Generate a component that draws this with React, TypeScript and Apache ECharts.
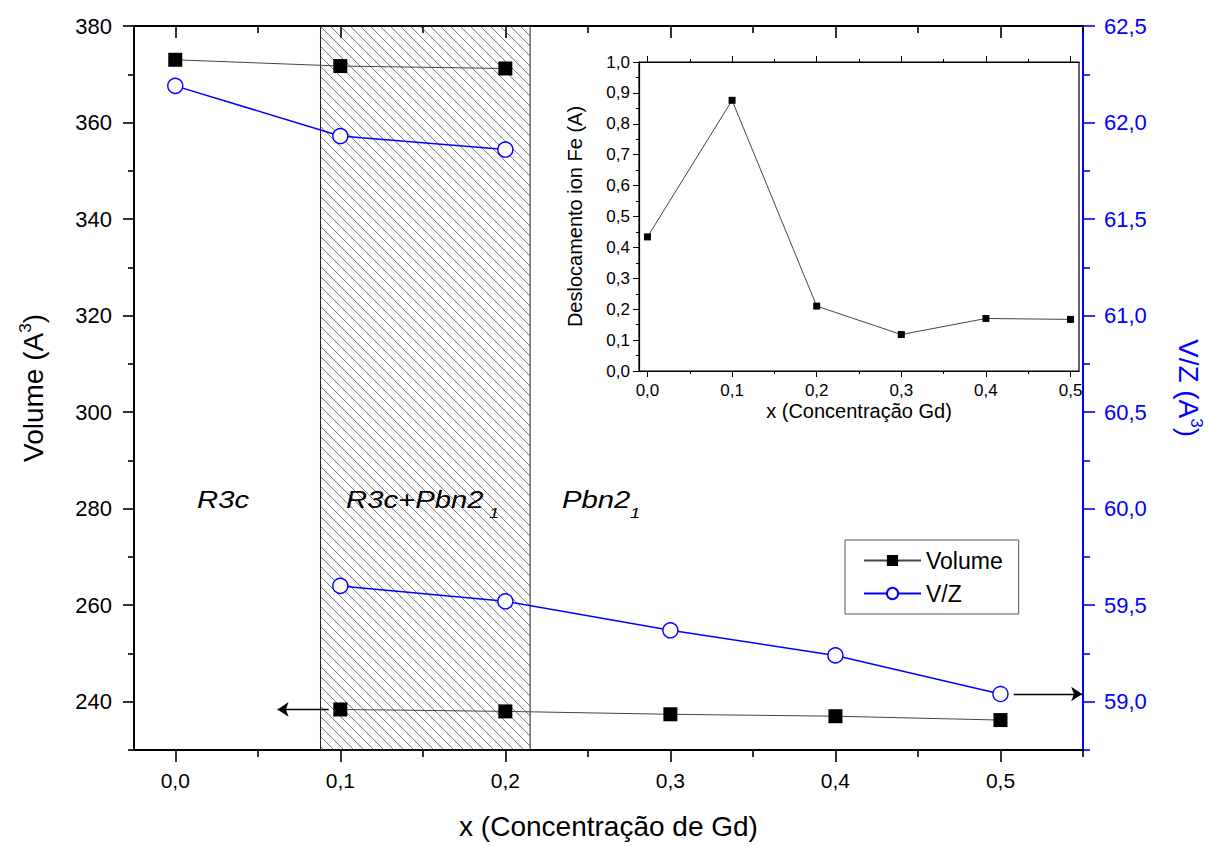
import React, { useEffect, useRef } from "react";
import * as echarts from "echarts";

// ---------- data ----------
const volumeR3c: [number, number][] = [
  [0.0, 373.0],
  [0.1, 371.7],
  [0.2, 371.2],
];
const volumePbn: [number, number][] = [
  [0.1, 238.4],
  [0.2, 238.0],
  [0.3, 237.4],
  [0.4, 237.0],
  [0.5, 236.2],
];
const vzR3c: [number, number][] = [
  [0.0, 62.19],
  [0.1, 61.93],
  [0.2, 61.86],
];
const vzPbn: [number, number][] = [
  [0.1, 59.6],
  [0.2, 59.52],
  [0.3, 59.37],
  [0.4, 59.24],
  [0.5, 59.04],
];
const insetDisplacement: [number, number][] = [
  [0.0, 0.434],
  [0.1, 0.876],
  [0.2, 0.21],
  [0.3, 0.118],
  [0.4, 0.17],
  [0.5, 0.167],
];
// two-phase (hatched) region, in x units
const mixedPhaseRange: [number, number] = [0.088, 0.215];
// arrows indicating which axis each series uses
const volumeArrowX: [number, number] = [0.093, 0.062];
const vzArrowX: [number, number] = [0.508, 0.5495];

// ---------- tick values ----------
const xMajor = [0, 0.1, 0.2, 0.3, 0.4, 0.5];
const xMinor = [0.05, 0.15, 0.25, 0.35, 0.45, 0.55];
const leftMajor = [240, 260, 280, 300, 320, 340, 360, 380];
const leftMinor = [230, 250, 270, 290, 310, 330, 350, 370];
const rightMajor = [59.0, 59.5, 60.0, 60.5, 61.0, 61.5, 62.0, 62.5];
const rightMinor = [58.75, 59.25, 59.75, 60.25, 60.75, 61.25, 61.75, 62.25];
const insetXMajor = [0, 0.1, 0.2, 0.3, 0.4, 0.5];
const insetXMinor = [0.05, 0.15, 0.25, 0.35, 0.45];
const insetYMajor = [0, 0.1, 0.2, 0.3, 0.4, 0.5, 0.6, 0.7, 0.8, 0.9, 1.0];
const insetYMinor = [0.05, 0.15, 0.25, 0.35, 0.45, 0.55, 0.65, 0.75, 0.85, 0.95];

const FONT = "Liberation Sans, Arial, sans-serif";
const BLUE = "#0000ff";
const comma1 = (v: number) => v.toFixed(1).replace(".", ",");

function tickAxis(opts: any) {
  const {
    gridIndex, position, min, max, ticks, length, inside = false,
    color = "#000", line = false, lineWidth = 2, labels, label = {}, extra = {},
  } = opts;
  return {
    type: "value",
    gridIndex,
    position,
    min,
    max,
    splitLine: { show: false },
    axisLine: { show: line, onZero: false, lineStyle: { color, width: lineWidth } },
    axisTick: {
      show: true,
      inside,
      length,
      customValues: ticks,
      lineStyle: { color, width: lineWidth === 2 ? 1.6 : 1 },
    },
    axisLabel: labels
      ? { show: true, customValues: labels, color, fontFamily: FONT, ...label }
      : { show: false },
    ...extra,
  };
}

function phaseText(text: string, x: number, y: number, size: number) {
  return {
    type: "text",
    x,
    y,
    scaleX: 1.22,
    z: 10,
    style: { text, fontSize: size, fontStyle: "italic", fontFamily: FONT, fill: "#000", verticalAlign: "top" },
  };
}

export default function App() {
  const ref = useRef<HTMLDivElement>(null);

  useEffect(() => {
    if (!ref.current) return;
    const chart = echarts.init(ref.current, null, { renderer: "svg" });

    const mainX = { min: -0.025, max: 0.55 };
    const mainYL = { min: 230, max: 380 };
    const mainYR = { min: 58.75, max: 62.5 };
    const insX = { min: -0.01, max: 0.51 };
    const insY = { min: 0, max: 1 };

    const option: any = {
      animation: false,
      backgroundColor: "#fff",
      textStyle: { fontFamily: FONT },
      grid: [
        { left: 134, top: 26, width: 949, height: 724, containLabel: false, outerBoundsMode: "none" },
        {
          left: 639, top: 62, width: 440, height: 309, show: true, outerBoundsMode: "none",
          backgroundColor: "#fff", borderColor: "#000", borderWidth: 1.2, z: 5,
        },
      ],
      legend: {
        orient: "vertical",
        left: 845,
        top: 540,
        itemWidth: 57,
        itemHeight: 14,
        itemGap: 10,
        padding: [9, 16, 9, 18],
        borderColor: "#555",
        borderWidth: 1,
        backgroundColor: "#fff",
        textStyle: { fontSize: 23, color: "#000", fontFamily: FONT },
        data: ["Volume", "V/Z"],
        selectedMode: false,
      },
      xAxis: [
        tickAxis({
          gridIndex: 0, position: "bottom", ...mainX, ticks: xMajor, length: 12, line: true,
          labels: xMajor, label: { formatter: comma1, fontSize: 21, margin: 20 },
          extra: {
            name: "x (Concentração de Gd)", nameLocation: "middle", nameGap: 62,
            nameTextStyle: { fontSize: 28, color: "#000", fontFamily: FONT },
          },
        }),
        tickAxis({ gridIndex: 0, position: "bottom", ...mainX, ticks: xMinor, length: 7 }),
        tickAxis({ gridIndex: 0, position: "top", ...mainX, ticks: xMajor, length: 12, inside: true, line: true }),
        tickAxis({ gridIndex: 0, position: "top", ...mainX, ticks: xMinor, length: 7, inside: true }),
        tickAxis({
          gridIndex: 1, position: "bottom", ...insX, ticks: insetXMajor, length: 6, line: true, lineWidth: 1.2,
          labels: insetXMajor, label: { formatter: comma1, fontSize: 17, margin: 11 },
          extra: {
            name: "x (Concentração Gd)", nameLocation: "middle", nameGap: 30, z: 6,
            nameTextStyle: { fontSize: 20, color: "#000", fontFamily: FONT },
          },
        }),
        tickAxis({ gridIndex: 1, position: "bottom", ...insX, ticks: insetXMinor, length: 3, lineWidth: 1.2, extra: { z: 6 } }),
        tickAxis({ gridIndex: 1, position: "top", ...insX, ticks: insetXMajor, length: 6, line: true, lineWidth: 1.2, extra: { z: 6 } }),
        tickAxis({ gridIndex: 1, position: "top", ...insX, ticks: insetXMinor, length: 3, lineWidth: 1.2, extra: { z: 6 } }),
      ],
      yAxis: [
        tickAxis({
          gridIndex: 0, position: "left", ...mainYL, ticks: leftMajor, length: 11, line: true,
          labels: leftMajor, label: { fontSize: 22, margin: 22 },
          extra: {
            name: "{n|Volume (A}{s|3}{n|)}", nameLocation: "middle", nameGap: 84,
            nameTextStyle: {
              color: "#000", fontFamily: FONT,
              rich: {
                n: { fontSize: 28, color: "#000", fontFamily: FONT },
                s: { fontSize: 17, color: "#000", fontFamily: FONT, padding: [0, 0, 16, 0] },
              },
            },
          },
        }),
        tickAxis({ gridIndex: 0, position: "left", ...mainYL, ticks: leftMinor, length: 6 }),
        tickAxis({
          gridIndex: 0, position: "right", ...mainYR, ticks: rightMajor, length: 12, line: true, color: BLUE,
          labels: rightMajor, label: { fontSize: 22, margin: 21, formatter: comma1 },
          extra: {
            name: "{n|V/Z (A}{s|3}{n|)}", nameLocation: "middle", nameGap: 89, nameRotate: -90,
            nameTextStyle: {
              color: BLUE, fontFamily: FONT,
              rich: {
                n: { fontSize: 28, color: BLUE, fontFamily: FONT },
                s: { fontSize: 17, color: BLUE, fontFamily: FONT, padding: [0, 0, 16, 0] },
              },
            },
          },
        }),
        tickAxis({ gridIndex: 0, position: "right", ...mainYR, ticks: rightMinor, length: 7, color: BLUE }),
        tickAxis({
          gridIndex: 1, position: "left", ...insY, ticks: insetYMajor, length: 6, line: true, lineWidth: 1.2,
          labels: insetYMajor, label: { fontSize: 17, margin: 9, formatter: comma1 },
          extra: {
            name: "Deslocamento ion Fe (A)", nameLocation: "middle", nameGap: 54, z: 6,
            nameTextStyle: { fontSize: 20, color: "#000", fontFamily: FONT },
          },
        }),
        tickAxis({ gridIndex: 1, position: "left", ...insY, ticks: insetYMinor, length: 3, lineWidth: 1.2, extra: { z: 6 } }),
      ],
      series: [
        {
          type: "custom",
          xAxisIndex: 0,
          yAxisIndex: 0,
          z: 1,
          silent: true,
          data: [[mixedPhaseRange[0], mixedPhaseRange[1], 300]],
          encode: { x: [0, 1], y: 2 },
          renderItem: (params: any, api: any) => {
            const x0 = api.coord([api.value(0), 300])[0];
            const x1 = api.coord([api.value(1), 300])[0];
            const cs = params.coordSys;
            const top = cs.y;
            const bottom = cs.y + cs.height;
            const children: any[] = [];
            const step = 10;
            for (let c = top - x1; c <= bottom - x0; c += step) {
              const xs = Math.max(x0, top - c);
              const xe = Math.min(x1, bottom - c);
              if (xe > xs) {
                children.push({
                  type: "line",
                  shape: { x1: xs, y1: xs + c, x2: xe, y2: xe + c },
                  style: { stroke: "#444", lineWidth: 0.75 },
                });
              }
            }
            children.push({
              type: "rect",
              shape: { x: x0, y: top, width: x1 - x0, height: bottom - top },
              style: { fill: "none", stroke: "#222", lineWidth: 1 },
            });
            return { type: "group", children };
          },
        },
        {
          name: "Volume",
          type: "line",
          xAxisIndex: 0,
          yAxisIndex: 0,
          data: volumeR3c,
          symbol: "rect",
          symbolSize: 14,
          itemStyle: { color: "#000" },
          lineStyle: { color: "#444", width: 1 },
          z: 3,
        },
        {
          name: "Volume",
          type: "line",
          xAxisIndex: 0,
          yAxisIndex: 0,
          data: volumePbn,
          symbol: "rect",
          symbolSize: 14,
          itemStyle: { color: "#000" },
          lineStyle: { color: "#444", width: 1 },
          z: 3,
          markLine: {
            silent: true,
            symbol: ["none", "arrow"],
            symbolSize: 11,
            label: { show: false },
            lineStyle: { color: "#000", width: 1.3, type: "solid" },
            data: [[
              { coord: [volumeArrowX[0], volumePbn[0][1]] },
              { coord: [volumeArrowX[1], volumePbn[0][1]] },
            ]],
          },
        },
        {
          name: "V/Z",
          type: "line",
          xAxisIndex: 0,
          yAxisIndex: 2,
          data: vzR3c,
          symbol: "circle",
          symbolSize: 15,
          itemStyle: { color: "#fff", borderColor: BLUE, borderWidth: 1.4 },
          lineStyle: { color: BLUE, width: 1.5 },
          z: 3,
        },
        {
          name: "V/Z",
          type: "line",
          xAxisIndex: 0,
          yAxisIndex: 2,
          data: vzPbn,
          symbol: "circle",
          symbolSize: 15,
          itemStyle: { color: "#fff", borderColor: BLUE, borderWidth: 1.4 },
          lineStyle: { color: BLUE, width: 1.5 },
          z: 3,
          markLine: {
            silent: true,
            symbol: ["none", "arrow"],
            symbolSize: 11,
            label: { show: false },
            lineStyle: { color: "#000", width: 1.3, type: "solid" },
            data: [[
              { coord: [vzArrowX[0], vzPbn[4][1]] },
              { coord: [vzArrowX[1], vzPbn[4][1]] },
            ]],
          },
        },
        {
          name: "Deslocamento",
          type: "line",
          xAxisIndex: 4,
          yAxisIndex: 4,
          data: insetDisplacement,
          symbol: "rect",
          symbolSize: 7,
          itemStyle: { color: "#000" },
          lineStyle: { color: "#444", width: 1 },
          z: 7,
        },
      ],
      graphic: [
        phaseText("R3c", 197, 488, 24),
        phaseText("R3c+Pbn2", 346, 488, 24),
        phaseText("1", 489, 506, 15),
        phaseText("Pbn2", 562, 488, 24),
        phaseText("1", 630, 506, 15),
      ],
    };

    chart.setOption(option);
    return () => chart.dispose();
  }, []);

  return (
    <div
      ref={ref}
      style={{ position: "fixed", left: 0, top: 0, width: 1208, height: 846, background: "#fff" }}
    />
  );
}
